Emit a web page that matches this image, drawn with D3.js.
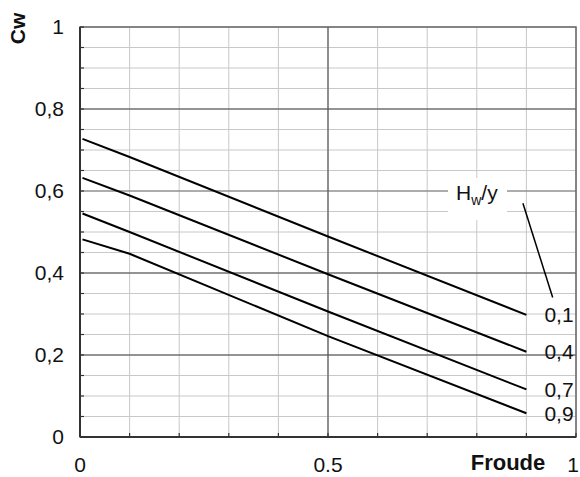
<!DOCTYPE html>
<html>
<head>
<meta charset="utf-8">
<script src="https://cdn.jsdelivr.net/npm/d3@7"></script>
<style>
html,body{margin:0;padding:0;background:#fff;}
svg{display:block;font-family:Arial,"Liberation Sans",sans-serif;}
</style>
</head>
<body>
<svg id="chart" width="580" height="477"></svg>
<script>
// ---- data ----
const seriesNames = ["0,1", "0,4", "0,7", "0,9"];
const froudeX = [0.005, 0.1, 0.5, 0.9];
const cwHw01 = [0.727, 0.683, 0.489, 0.298];
const cwHw04 = [0.632, 0.589, 0.397, 0.208];
const cwHw07 = [0.545, 0.500, 0.306, 0.116];
const cwHw09 = [0.482, 0.447, 0.246, 0.058];
const yTickValues = [0, 0.2, 0.4, 0.6, 0.8, 1];
const yTickLabels = ["0", "0,2", "0,4", "0,6", "0,8", "1"];
const xTickValues = [0, 0.5, 1];
const xTickLabels = ["0", "0.5", "1"];

const series = [cwHw01, cwHw04, cwHw07, cwHw09].map((vals, i) => ({
  name: seriesNames[i],
  points: vals.map((v, j) => [froudeX[j], v])
}));

// ---- layout ----
const svg = d3.select("#chart");
const L = 80, R = 576, T = 27, B = 437;
const x = d3.scaleLinear().domain([0, 1]).range([L, R]);
const y = d3.scaleLinear().domain([0, 1]).range([B, T]);

const minorX = d3.range(0, 1.0001, 0.1);
const minorY = d3.range(0, 1.0001, 0.05);

// minor grid
svg.append("g").selectAll("line").data(minorX).join("line")
  .attr("x1", d => x(d)).attr("x2", d => x(d)).attr("y1", T).attr("y2", B)
  .attr("stroke", "#c8c8c8").attr("stroke-width", 1);
svg.append("g").selectAll("line").data(minorY).join("line")
  .attr("x1", L).attr("x2", R).attr("y1", d => y(d)).attr("y2", d => y(d))
  .attr("stroke", "#c8c8c8").attr("stroke-width", 1);

// major grid
svg.append("g").selectAll("line").data([0.2, 0.4, 0.6, 0.8]).join("line")
  .attr("x1", L).attr("x2", R).attr("y1", d => y(d)).attr("y2", d => y(d))
  .attr("stroke", d => d === 0.6 ? "#777" : "#444").attr("stroke-width", 1.2);
svg.append("g").selectAll("line").data([0.5]).join("line")
  .attr("x1", d => x(d)).attr("x2", d => x(d)).attr("y1", T).attr("y2", B)
  .attr("stroke", "#555").attr("stroke-width", 1.2);

// border
svg.append("rect").attr("x", L).attr("y", T).attr("width", R - L).attr("height", B - T)
  .attr("fill", "none").attr("stroke", "#666").attr("stroke-width", 1.5);

// axes lines
svg.append("line").attr("x1", L).attr("x2", L).attr("y1", T).attr("y2", B)
  .attr("stroke", "#333").attr("stroke-width", 2);
svg.append("line").attr("x1", L).attr("x2", R).attr("y1", B).attr("y2", B)
  .attr("stroke", "#333").attr("stroke-width", 2);

// ticks (inside)
svg.append("g").selectAll("line").data(minorY).join("line")
  .attr("x1", L).attr("x2", L + 4).attr("y1", d => y(d)).attr("y2", d => y(d))
  .attr("stroke", "#333").attr("stroke-width", 1.2);
svg.append("g").selectAll("line").data(minorX).join("line")
  .attr("x1", d => x(d)).attr("x2", d => x(d)).attr("y1", B).attr("y2", B - 4)
  .attr("stroke", "#333").attr("stroke-width", 1.2);

// tick labels
svg.append("g").selectAll("text").data(yTickValues).join("text")
  .attr("x", 64).attr("y", d => y(d)).attr("dy", "0.35em")
  .attr("text-anchor", "end").attr("font-size", 21).attr("fill", "#111")
  .text((d, i) => yTickLabels[i]);
svg.append("g").selectAll("text").data(xTickValues).join("text")
  .attr("x", (d, i) => i === xTickValues.length - 1 ? 579 : x(d))
  .attr("y", 472)
  .attr("text-anchor", (d, i) => i === xTickValues.length - 1 ? "end" : "middle")
  .attr("font-size", 21).attr("fill", "#111")
  .text((d, i) => xTickLabels[i]);

// axis titles
svg.append("text").attr("transform", "translate(25,28.5) rotate(-90)")
  .attr("text-anchor", "middle").attr("font-size", 21).attr("font-weight", "bold")
  .attr("fill", "#111").text("Cw");
svg.append("text").attr("x", 508).attr("y", 470)
  .attr("text-anchor", "middle").attr("font-size", 22).attr("font-weight", "bold")
  .attr("fill", "#111").text("Froude");

// series lines
const line = d3.line().x(d => x(d[0])).y(d => y(d[1]));
svg.append("g").selectAll("path").data(series).join("path")
  .attr("d", d => line(d.points))
  .attr("fill", "none").attr("stroke", "#000").attr("stroke-width", 2);

// series labels
svg.append("g").selectAll("text").data(series).join("text")
  .attr("x", d => x(d.points[d.points.length - 1][0]) + 18)
  .attr("y", d => y(d.points[d.points.length - 1][1]))
  .attr("dy", "0.35em").attr("font-size", 21).attr("fill", "#111")
  .text(d => d.name);

// legend title box
svg.append("rect").attr("x", 448).attr("y", 178).attr("width", 59).attr("height", 42)
  .attr("fill", "#fff");
const t = svg.append("text").attr("x", 456).attr("y", 200).attr("font-size", 21).attr("fill", "#111");
t.append("tspan").text("H");
t.append("tspan").attr("font-size", 14).attr("dy", 5).text("w");
t.append("tspan").attr("dy", -5).text("/y");

// leader line
svg.append("line")
  .attr("x1", x(0.893)).attr("y1", y(0.57))
  .attr("x2", x(0.953)).attr("y2", y(0.34))
  .attr("stroke", "#000").attr("stroke-width", 1.5);
</script>
</body>
</html>
